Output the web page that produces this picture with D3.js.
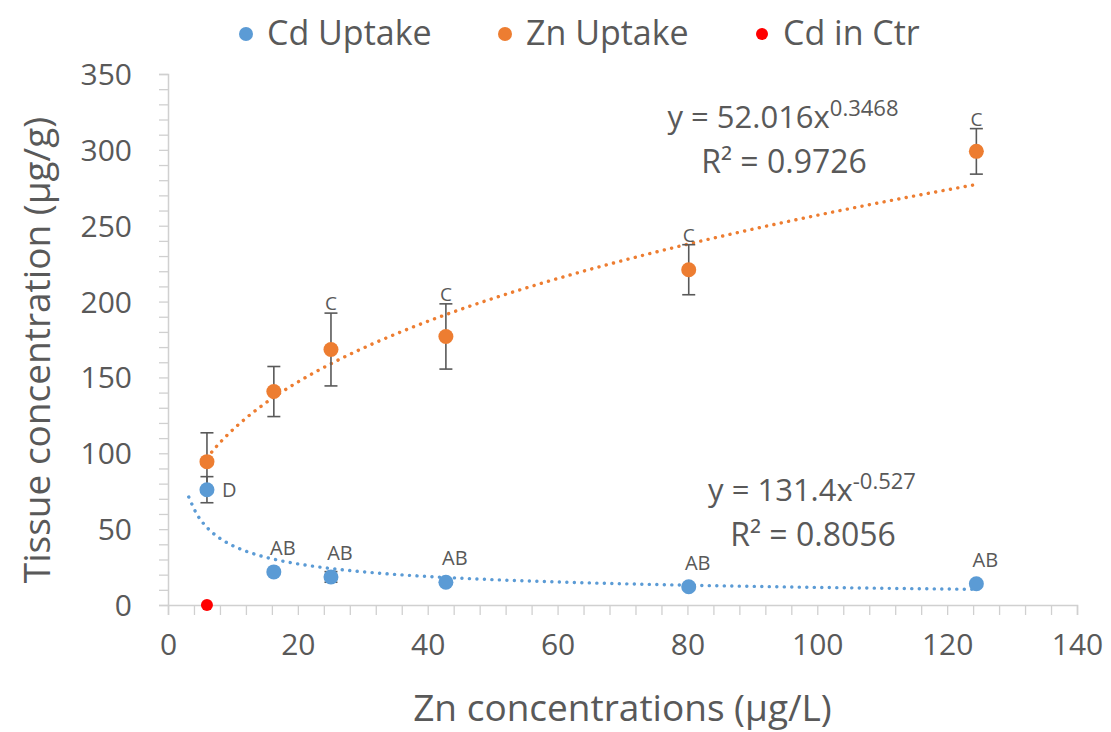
<!DOCTYPE html>
<html>
<head>
<meta charset="utf-8">
<script src="https://cdn.jsdelivr.net/npm/d3@7"></script>
<style>
  body { margin: 0; background: #fff; }
  text { font-family: "Open Sans", sans-serif; fill: #595959; }
</style>
</head>
<body>
<div id="chart-area"></div>
<script>
// data
var znConc = [6.0, 16.3, 25.1, 42.8, 80.2, 124.5];
var znUptake = [94.5, 140.7, 168.4, 177, 221, 299];
var znErr = [19, 16.5, 24, 21.5, 16.5, 15];
var znLetters = ["", "", "C", "C", "C", "C"];
var cdUptake = [76, 21.8, 18.5, 15, 12, 14];
var cdErr = [8.6, 1, 3.5, 1, 1, 1];
var cdLetters = ["D", "AB", "AB", "AB", "AB", "AB"];
var ctrConc = [6.0];
var ctrCd = [0];
var seriesNames = ["Cd Uptake", "Zn Uptake", "Cd in Ctr"];
var seriesColors = ["#5b9bd5", "#ed7d31", "#ff0000"];
var xTicks = [0, 20, 40, 60, 80, 100, 120, 140];
var yTicks = [0, 50, 100, 150, 200, 250, 300, 350];
// trendlines (power fits shown on chart)
var znFit = {a: 52.016, b: 0.3468, from: 6.0, to: 124.5};
var cdFit = {a: 131.4, b: -0.527, from: 3.2, to: 124.5};

var margin = {left:168, right:34, top:74, bottom:127},
	width = 1111 - margin.left - margin.right,
	height = 732 - margin.top - margin.bottom;

var svg = d3.select("#chart-area")
	.append("svg")
		.attr("width", 1111)
		.attr("height", 732);
var g = svg.append("g")
	.attr("transform", "translate(" + margin.left + "," + margin.top + ")");

var x = d3.scaleLinear().domain([0, 140]).range([0, width]);
var y = d3.scaleLinear().domain([0, 350]).range([height, 0]);

// minor tick axes (lines only)
var xMinor = g.append("g")
	.attr("transform", "translate(0," + height + ")")
	.call(d3.axisBottom(x).tickValues(d3.range(0, 141, 4)).tickSize(10).tickFormat(""));
var yMinor = g.append("g")
	.call(d3.axisLeft(y).tickValues(d3.range(0, 351, 10)).tickSize(9).tickFormat(""));
[xMinor, yMinor].forEach(a => {
	a.selectAll("path").attr("stroke", "#d0d0d0").attr("stroke-width", 1.5);
	a.selectAll("line").attr("stroke", "#d0d0d0").attr("stroke-width", 1.3);
});

// labels
var xLab = g.append("g")
	.attr("transform", "translate(0," + height + ")")
	.call(d3.axisBottom(x).tickValues(xTicks).tickSize(0).tickPadding(29));
var yLab = g.append("g")
	.call(d3.axisLeft(y).tickValues(yTicks).tickSize(0).tickPadding(36));
[xLab, yLab].forEach(a => {
	a.select(".domain").remove();
	a.selectAll("text").style("font-size", "30px").attr("fill", "#595959")
		.style("font-family", "'Open Sans', sans-serif");
});
yLab.selectAll("text").attr("dy", "0.35em");

// axis titles
svg.append("text")
	.attr("x", margin.left + width / 2)
	.attr("y", 721)
	.attr("text-anchor", "middle")
	.style("font-size", "37px")
	.text("Zn concentrations (µg/L)");
svg.append("text")
	.attr("transform", "translate(50,350) rotate(-90)")
	.attr("text-anchor", "middle")
	.style("font-size", "37px")
	.text("Tissue concentration (µg/g)");

// trendlines
function fitPoints(f) {
	return d3.range(0, 101).map(i => {
		var xv = f.from + (f.to - f.from) * i / 100;
		return [xv, f.a * Math.pow(xv, f.b)];
	});
}
var line = d3.line()
	.x(d => x(d[0]))
	.y(d => y(d[1]))
	.curve(d3.curveMonotoneX);
[[znFit, seriesColors[1]], [cdFit, seriesColors[0]]].forEach(p => {
	g.append("path")
		.attr("d", line(fitPoints(p[0])))
		.attr("fill", "none")
		.attr("stroke", p[1])
		.attr("stroke-width", 3.4)
		.attr("stroke-linecap", "round")
		.attr("stroke-dasharray", "0.1 7.4");
});

// error bars
function errorBars(xs, ys, es) {
	var eg = g.append("g").attr("stroke", "#595959").attr("stroke-width", 1.6);
	xs.forEach((xv, i) => {
		if (!es[i]) return;
		var cx = x(xv), y1 = y(ys[i] + es[i]), y0 = y(ys[i] - es[i]);
		eg.append("line").attr("x1", cx).attr("x2", cx).attr("y1", y1).attr("y2", y0);
		eg.append("line").attr("x1", cx - 6.5).attr("x2", cx + 6.5).attr("y1", y1).attr("y2", y1);
		eg.append("line").attr("x1", cx - 6.5).attr("x2", cx + 6.5).attr("y1", y0).attr("y2", y0);
	});
}
errorBars(znConc, znUptake, znErr);
errorBars(znConc, cdUptake, cdErr);

// points
function points(xs, ys, color, r) {
	g.append("g").selectAll("circle")
		.data(xs)
		.enter().append("circle")
			.attr("cx", d => x(d))
			.attr("cy", (d, i) => y(ys[i]))
			.attr("r", r)
			.attr("fill", color);
}
points(znConc, znUptake, seriesColors[1], 7.5);
points(znConc, cdUptake, seriesColors[0], 7.5);
points(ctrConc, ctrCd, seriesColors[2], 6);

// letters
g.append("g").selectAll("text")
	.data(znLetters)
	.enter().append("text")
		.attr("x", (d, i) => x(znConc[i]))
		.attr("y", (d, i) => y(znUptake[i] + znErr[i]) - 3)
		.attr("text-anchor", "middle")
		.style("font-size", "19px")
		.attr("fill", "#404040")
		.text(d => d);
g.append("g").selectAll("text")
	.data(cdLetters)
	.enter().append("text")
		.attr("x", (d, i) => i == 0 ? x(znConc[i]) + 15 : x(znConc[i]) + 9)
		.attr("y", (d, i) => i == 0 ? y(cdUptake[i]) + 7 : y(cdUptake[i]) - 17)
		.attr("text-anchor", (d, i) => i == 0 ? "start" : "middle")
		.style("font-size", "20px")
		.attr("fill", "#404040")
		.text(d => d);

// equations
function equation(cx, cy, coef, pow, r2) {
	var t = svg.append("text")
		.attr("x", cx).attr("y", cy)
		.attr("text-anchor", "middle")
		.style("font-size", "31px");
	t.append("tspan").text("y = " + coef + "x");
	t.append("tspan").attr("dy", -12).style("font-size", "22px").text(pow);
	svg.append("text")
		.attr("x", cx + 1).attr("y", cy + 45)
		.attr("text-anchor", "middle")
		.style("font-size", "32px")
		.text("R² = " + r2);
}
equation(783, 128, "52.016", "0.3468", "0.9726");
equation(812, 501, "131.4", "-0.527", "0.8056");

// legend
var leg = svg.append("g");
var legX = [246, 505, 762];
seriesNames.forEach((n, i) => {
	leg.append("circle").attr("cx", legX[i]).attr("cy", 34).attr("r", i == 2 ? 6 : 7).attr("fill", seriesColors[i]);
	leg.append("text").attr("x", legX[i] + 21).attr("y", 45)
		.style("font-size", "34px").text(n);
});
</script>
</body>
</html>
